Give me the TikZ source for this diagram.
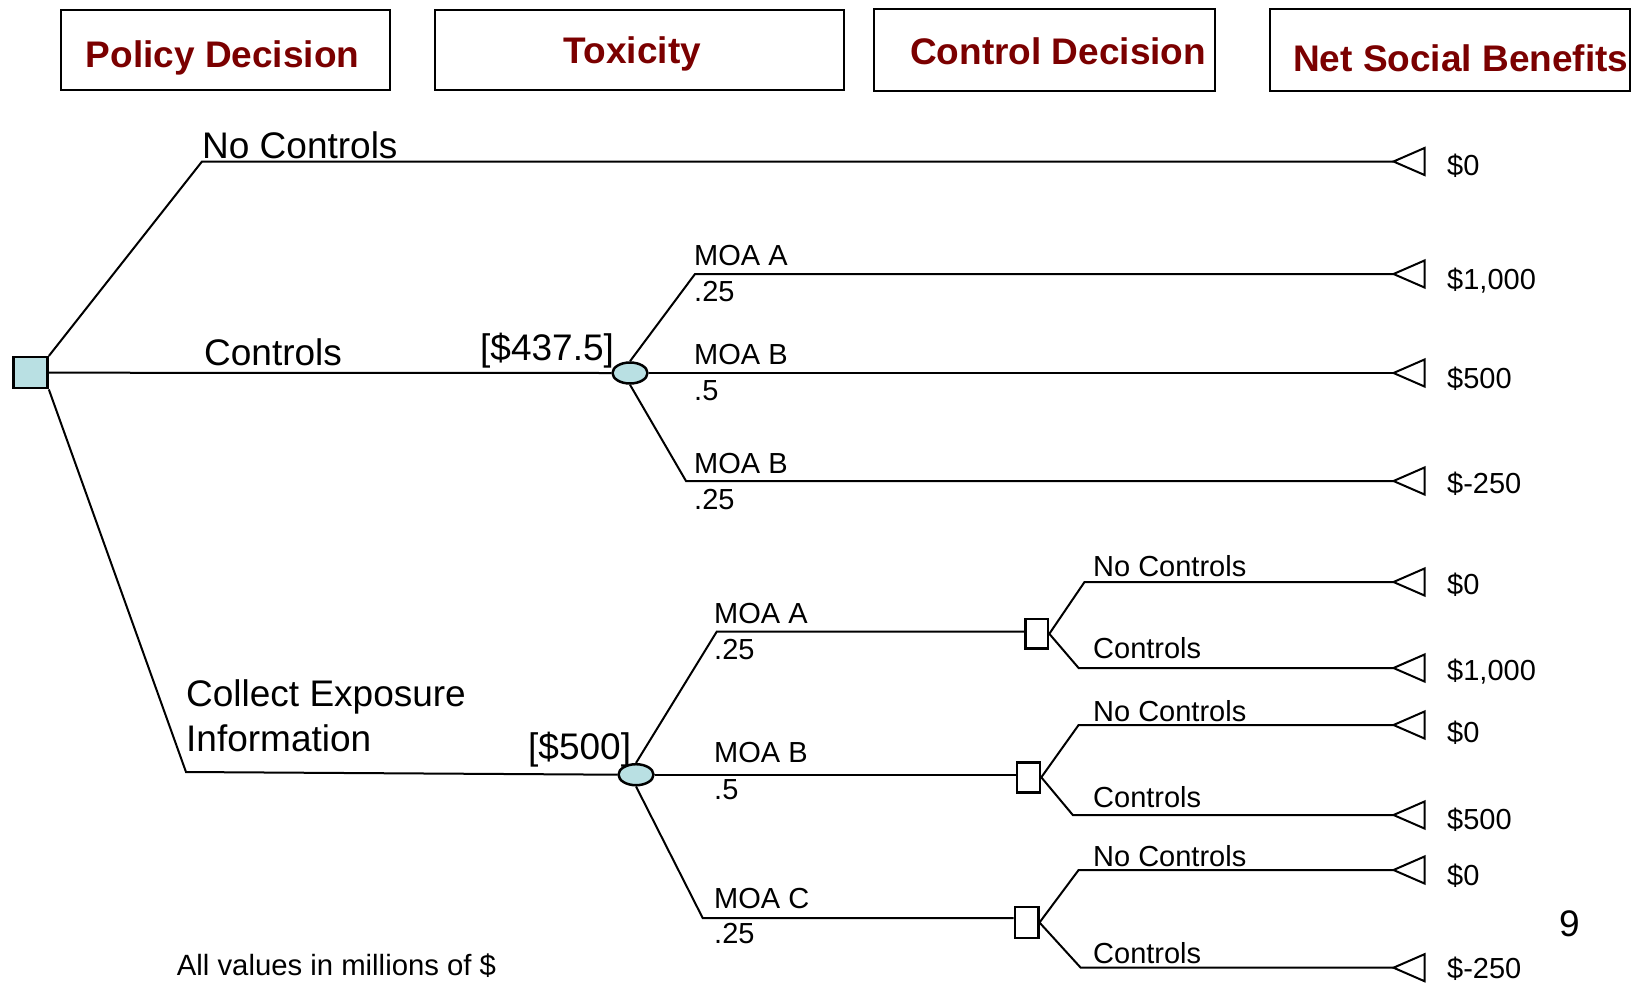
\documentclass[tikz,border=0pt]{standalone}
\usepackage{fontspec}
\setmainfont{Liberation Sans}
\usetikzlibrary{shapes.geometric}
\definecolor{hdr}{HTML}{7B0000}
\definecolor{nodefill}{HTML}{B9E0E3}
\begin{document}
\begin{tikzpicture}[x=1pt,y=-1pt,
  ln/.style={line width=2pt, line join=miter},
  hbox/.style={draw, line width=2.5pt, rectangle, inner sep=0pt},
  htxt/.style={anchor=base west, inner sep=0pt, text=hdr, font=\fontsize{37}{40}\selectfont\bfseries},
  big/.style={anchor=base west, inner sep=0pt, font=\fontsize{37}{40}\selectfont},
  sml/.style={anchor=base west, inner sep=0pt, font=\fontsize{29}{32}\selectfont},
  foot/.style={anchor=base west, inner sep=0pt, font=\fontsize{29.3}{32}\selectfont},
  dec/.style={draw, line width=2.5pt, rectangle, inner sep=0pt},
  chance/.style={draw, line width=2.5pt, ellipse, fill=nodefill, minimum width=35pt, minimum height=21pt, inner sep=0pt}
]
\useasboundingbox (0,0) rectangle (1649,983);

% header boxes
\node[hbox, minimum width=329pt, minimum height=80pt] (h1) at (225.5,50) {};
\node[hbox, minimum width=409pt, minimum height=80pt] (h2) at (639.5,50) {};
\node[hbox, minimum width=341pt, minimum height=82pt] (h3) at (1044.5,50) {};
\node[hbox, minimum width=360pt, minimum height=82pt] (h4) at (1450,50) {};
\node[htxt] (ht1) at (85.6,67.7) {Policy Decision};
\node[htxt] (ht2) at (563.7,63.3) {Toxicity};
\node[htxt] (ht3) at (910,64) {Control Decision};
\node[htxt] (ht4) at (1293,71.7) {Net Social Benefits};

% decision and chance nodes
\node[dec, fill=nodefill, minimum width=34pt, minimum height=31pt] (root) at (30.6,372.7) {};
\node[chance] (e1) at (630,373) {};
\node[chance] (e2) at (636,774.7) {};
\node[dec, minimum width=22.5pt, minimum height=29.7pt] (sq1) at (1036.8,633.8) {};
\node[dec, minimum width=23.3pt, minimum height=30pt] (sq2) at (1028.4,777.3) {};
\node[dec, minimum width=23.3pt, minimum height=31pt] (sq3) at (1026.6,922.5) {};

% corner coordinates
\coordinate (c1) at (202,161.5);
\coordinate (c3) at (186,772);
\coordinate (a1) at (695,274);
\coordinate (a3) at (686,481);
\coordinate (b1) at (716.7,631.7);
\coordinate (b3) at (702.7,918);
\coordinate (d1) at (1084.5,582);
\coordinate (d2) at (1078.6,668);
\coordinate (d3) at (1078.6,725);
\coordinate (d4) at (1072.8,815);
\coordinate (d5) at (1078.6,870);
\coordinate (d6) at (1080.7,967.7);

% terminal tips
\coordinate (t1) at (1393.5,161.5);
\coordinate (t2) at (1393.5,274);
\coordinate (t3) at (1393.5,373);
\coordinate (t4) at (1393.5,481);
\coordinate (t5) at (1393.5,582);
\coordinate (t6) at (1393.5,668);
\coordinate (t7) at (1393.5,725);
\coordinate (t8) at (1393.5,815);
\coordinate (t9) at (1393.5,870);
\coordinate (t10) at (1393.5,967.7);

% branches
\draw[ln] (root.north east) -- (c1) -- (t1);
\draw[ln] (root.east) -- (e1.west);
\draw[ln] (root.south east) -- (c3) -- (e2.west);
\draw[ln] (e1.north) -- (a1) -- (t2);
\draw[ln] (e1.east) -- (t3);
\draw[ln] (e1.south) -- (a3) -- (t4);
\draw[ln] (e2.north) -- (b1) -- (b1 -| sq1.west);
\draw[ln] (e2.east) -- (e2.east -| sq2.west);
\draw[ln] (e2.south) -- (b3) -- (b3 -| sq3.west);
\draw[ln] (sq1.east) -- (d1) -- (t5);
\draw[ln] (sq1.east) -- (d2) -- (t6);
\draw[ln] (sq2.east) -- (d3) -- (t7);
\draw[ln] (sq2.east) -- (d4) -- (t8);
\draw[ln] (sq3.east) -- (d5) -- (t9);
\draw[ln] (sq3.east) -- (d6) -- (t10);

% terminal triangles
\foreach \t in {t1,t2,t3,t4,t5,t6,t7,t8,t9,t10}
  \draw[ln] (\t) -- ++(31,-13.5) -- ++(0,27) -- cycle;

% branch labels
\node[big] (l1) at (202,158.5) {No Controls};
\node[big] (l2) at (204,365.7) {Controls};
\node[big] (l3) at (480,360) {[\$437.5]};
\node[big] (l4) at (186,706) {Collect Exposure};
\node[big] (l5) at (186,751) {Information};
\node[big] (l6) at (528,759) {[\$500]};

\node[sml] at (694,265.6) {MOA A};
\node[sml] at (694,301) {.25};
\node[sml] at (694,364.6) {MOA B};
\node[sml] at (694,400) {.5};
\node[sml] at (694,473) {MOA B};
\node[sml] at (694,509) {.25};

\node[sml] at (714,623.3) {MOA A};
\node[sml] at (714,659) {.25};
\node[sml] at (714,762.7) {MOA B};
\node[sml] at (714,799) {.5};
\node[sml] at (714,908.3) {MOA C};
\node[sml] at (714,943.3) {.25};

\node[sml] at (1093,576) {No Controls};
\node[sml] at (1093,658) {Controls};
\node[sml] at (1093,721.7) {No Controls};
\node[sml] at (1093,807) {Controls};
\node[sml] at (1093,866.7) {No Controls};
\node[sml] at (1093,963) {Controls};

% values
\node[sml] at (1447,175) {\$0};
\node[sml] at (1447,289) {\$1,000};
\node[sml] at (1447,388) {\$500};
\node[sml] at (1447,493) {\$-250};
\node[sml] at (1447,594) {\$0};
\node[sml] at (1447,680.5) {\$1,000};
\node[sml] at (1447,742.7) {\$0};
\node[sml] at (1447,829) {\$500};
\node[sml] at (1447,885) {\$0};
\node[sml] at (1447,978) {\$-250};

\node[big] (pg) at (1559,936) {9};
\node[foot] (ft) at (176.7,975) {All values in millions of \$};
\end{tikzpicture}
\end{document}
